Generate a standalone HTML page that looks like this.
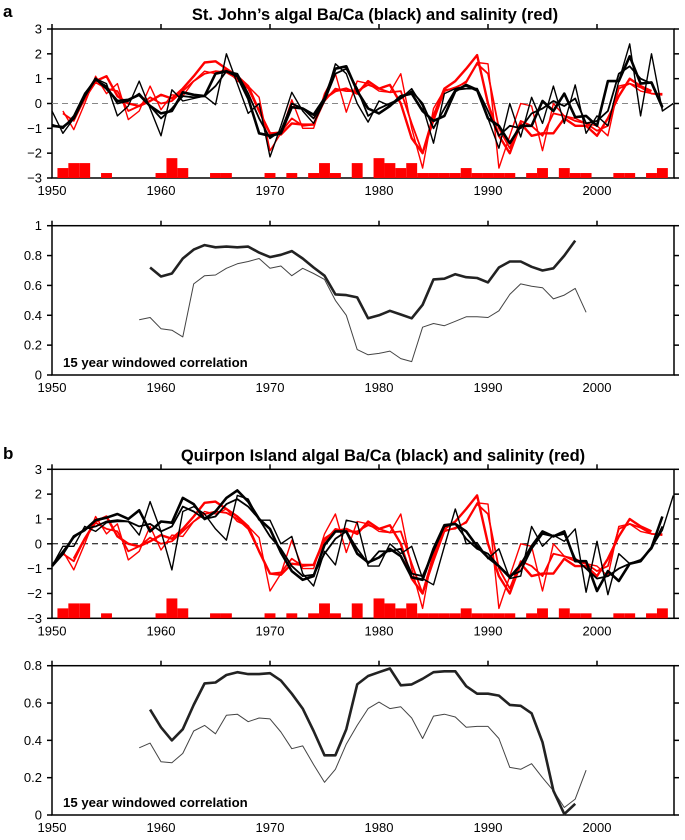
<!DOCTYPE html>
<html><head><meta charset="utf-8"><style>
body{margin:0;background:#fff;}
svg{display:block;font-family:"Liberation Sans",Arial,sans-serif;}
</style></head><body>
<svg id="c" width="685" height="840" viewBox="0 0 685 840"></svg>
<script>
const years0=1950;
const tickYears=[1950,1960,1970,1980,1990,2000];
const barYears=[1951,1952,1953,1955,1960,1961,1962,1965,1966,1970,1972,1974,1975,1976,1978,1980,1981,1982,1983,1984,1985,1986,1987,1988,1989,1990,1991,1992,1994,1995,1997,1998,1999,2002,2003,2005,2006];
const barVals=[-2.6,-2.4,-2.4,-2.8,-2.8,-2.2,-2.6,-2.8,-2.8,-2.8,-2.8,-2.8,-2.4,-2.8,-2.4,-2.2,-2.4,-2.6,-2.4,-2.8,-2.8,-2.8,-2.8,-2.6,-2.8,-2.8,-2.8,-2.8,-2.8,-2.6,-2.6,-2.8,-2.8,-2.8,-2.8,-2.8,-2.6];
// St John's (start 1950)
const aBlackThin=[-0.3,-1.2,-0.6,0.4,1.0,0.8,-0.5,-0.1,0.9,-0.2,-1.3,0.55,0.1,0.2,0.3,-0.05,2.0,0.8,-0.4,0.0,-2.15,-0.9,0.45,-0.3,-0.8,0.1,1.6,1.2,0.0,-0.75,0.1,-0.1,0.2,0.6,-0.1,-1.6,0.4,0.6,0.7,0.5,-0.6,-1.8,0.0,-1.35,0.25,-0.8,0.7,-0.8,0.75,-1.2,-0.5,-0.9,0.9,2.4,-0.5,2.0,-0.3,0.0];
const aBlackMed=[-0.85,-1.0,-0.5,0.4,0.95,0.7,0.0,0.1,0.4,-0.1,-0.6,-0.2,0.3,0.25,0.3,0.7,1.3,1.2,0.4,-0.6,-1.4,-1.1,0.0,-0.2,-0.6,0.1,1.2,1.4,0.6,-0.5,-0.2,0.0,0.2,0.5,0.0,-1.0,-0.2,0.55,0.6,0.6,-0.3,-1.3,-0.9,-1.0,-0.4,-0.2,0.1,-0.1,0.2,-0.8,-0.7,-0.3,1.2,1.5,1.0,0.8,-0.2];
const aBlackThick=[-0.9,-0.95,-0.6,0.3,1.0,0.6,0.1,0.15,0.35,-0.1,-0.4,-0.3,0.45,0.35,0.3,1.2,1.3,1.1,0.2,-1.2,-1.3,-1.2,-0.15,-0.2,-0.45,0.2,1.4,1.5,0.5,-0.2,-0.4,-0.1,0.3,0.4,-0.3,-0.7,-0.5,0.5,0.75,0.55,-0.6,-0.9,-1.6,-0.9,-0.9,0.1,-0.3,0.4,-0.55,-0.5,-0.9,0.9,0.9,1.9,0.8,0.85,-0.15];
// salinity (start 1951)
const redThin=[-0.3,-1.05,0.0,1.1,0.4,0.8,-0.65,-0.3,0.7,-0.25,0.35,0.3,0.9,1.3,1.2,1.4,0.9,0.7,0.25,-1.9,-1.2,0.15,-1.0,-1.0,0.4,1.2,-0.35,0.9,0.8,0.5,0.45,1.2,-1.0,-2.6,-0.2,0.55,0.6,0.9,1.65,1.6,-2.6,-1.3,0.0,-0.1,-1.9,0.0,-0.5,-0.6,-0.8,-0.9,-1.3,0.7,0.8,0.5,0.4,0.4];
const redMed=[-0.4,-0.7,0.2,0.85,0.6,0.5,-0.3,-0.1,0.25,0.0,0.1,0.5,0.9,1.2,1.3,1.25,1.0,0.6,-0.3,-1.2,-1.15,-0.6,-0.9,-0.85,0.1,0.6,0.5,0.5,0.75,0.6,0.45,0.5,-0.8,-2.0,-0.7,0.5,0.65,0.85,1.6,1.2,-1.0,-1.8,-0.7,-0.9,-1.3,-0.4,-0.5,-0.7,-0.8,-1.1,-0.9,0.6,0.8,0.65,0.4,0.35];
// thick red starts 1952
const redThick=[-0.6,0.2,0.9,1.1,0.3,0.0,-0.1,0.1,0.35,0.2,0.6,1.1,1.65,1.7,1.4,1.1,0.7,-0.3,-1.2,-1.25,-0.8,-0.85,-0.85,0.2,0.5,0.6,0.4,0.9,0.6,0.75,0.0,-1.4,-2.0,-0.5,0.6,0.9,1.4,1.95,0.0,-1.3,-2.0,-0.8,-1.3,-1.2,-1.2,-0.6,-0.9,-0.9,-1.3,-0.6,0.3,1.0,0.7,0.5];
// Quirpon (start 1950)
const bBlackThin=[-0.9,-0.1,-0.1,0.7,0.5,0.85,0.9,0.9,0.35,1.7,0.5,-1.05,1.3,1.5,1.2,0.6,0.15,1.95,1.8,0.95,0.95,0.0,0.3,-1.2,-1.7,-0.3,-0.85,0.95,0.85,-0.9,-0.9,0.0,-0.4,-0.1,-1.4,-1.65,-0.1,1.4,0.0,0.05,-0.6,-0.2,-1.4,-1.3,0.7,-0.1,0.35,0.1,0.6,-1.95,0.1,-2.05,-0.4,-0.8,-0.7,-0.15,0.55,1.95];
const bBlackMed=[-0.85,-0.3,0.25,0.6,0.7,0.9,0.95,0.9,0.7,0.8,0.5,0.7,1.5,1.3,1.0,1.1,1.6,1.8,1.5,1.0,0.3,-0.2,-0.9,-1.3,-1.25,-0.4,0.2,0.5,-0.2,-0.8,-0.3,-0.3,-0.2,-1.2,-1.3,-0.3,0.7,0.8,0.2,-0.2,-0.4,-0.9,-1.3,-1.1,-0.2,0.4,0.3,0.4,-0.6,-1.0,-1.4,-1.3,-1.0,-0.8,-0.65,-0.2,0.7];
const bBlackThick=[-0.9,-0.4,0.3,0.55,0.95,1.05,1.2,1.0,1.35,0.5,0.9,0.85,1.85,1.6,1.0,1.3,1.85,2.15,1.7,1.0,0.6,-0.35,-1.1,-1.45,-1.3,-0.05,0.5,0.5,-0.4,-0.75,-0.55,-0.2,-0.5,-1.35,-1.45,-0.2,0.75,0.8,0.5,-0.1,-0.55,-0.9,-1.35,-0.85,-0.1,0.5,0.3,0.5,-0.7,-0.7,-1.9,-1.1,-1.5,-0.8,-0.7,-0.15,1.1];
// correlations (start 1959 thick, 1958 thin)
const aCorrThick=[0.72,0.66,0.68,0.78,0.84,0.87,0.855,0.86,0.855,0.86,0.82,0.79,0.805,0.83,0.78,0.72,0.665,0.54,0.535,0.52,0.38,0.40,0.43,0.405,0.38,0.47,0.64,0.645,0.675,0.655,0.65,0.62,0.72,0.76,0.76,0.725,0.70,0.715,0.80,0.90];
const aCorrThin=[0.37,0.385,0.31,0.30,0.255,0.61,0.665,0.67,0.715,0.745,0.76,0.78,0.715,0.73,0.665,0.715,0.68,0.64,0.50,0.40,0.17,0.135,0.145,0.16,0.11,0.09,0.32,0.345,0.33,0.36,0.39,0.39,0.385,0.43,0.54,0.61,0.595,0.585,0.51,0.535,0.58,0.42];
const bCorrThick=[0.565,0.47,0.40,0.46,0.59,0.705,0.71,0.75,0.765,0.755,0.755,0.76,0.72,0.65,0.57,0.45,0.32,0.32,0.46,0.70,0.745,0.765,0.785,0.695,0.70,0.73,0.765,0.77,0.77,0.69,0.65,0.65,0.64,0.59,0.585,0.545,0.39,0.13,0.005,0.06];
const bCorrThin=[0.36,0.385,0.285,0.28,0.33,0.45,0.48,0.435,0.535,0.54,0.50,0.52,0.515,0.445,0.355,0.37,0.27,0.175,0.245,0.38,0.48,0.57,0.605,0.57,0.58,0.52,0.41,0.53,0.54,0.525,0.47,0.475,0.475,0.41,0.255,0.245,0.275,0.20,0.13,0.04,0.085,0.24];

const NS='http://www.w3.org/2000/svg';
const svg=document.getElementById('c');
function el(tag,attrs,parent){const e=document.createElementNS(NS,tag);for(const k in attrs)e.setAttribute(k,attrs[k]);(parent||svg).appendChild(e);return e;}
const X0=52,XR=674,KX=10.9;
function xs(yr){return X0+(yr-years0)*KX;}
function panel(name,top,bot,vmin,vmax,yticks,ylabFmt){
  const g=el('g',{});
  
  
  const ys=v=>bot-(v-vmin)/(vmax-vmin)*(bot-top);
  const frame=el('rect',{x:X0,y:top,width:XR-X0,height:bot-top,fill:'none',stroke:'#000','stroke-width':1.5},g);
  
  
  yticks.forEach(v=>{
    el('line',{x1:X0-5,x2:X0,y1:ys(v),y2:ys(v),stroke:'#000','stroke-width':1.5},g);
    el('line',{x1:XR,x2:XR+5,y1:ys(v),y2:ys(v),stroke:'#000','stroke-width':1.5},g);
    const t=el('text',{x:X0-10,y:ys(v)+4.5,'text-anchor':'end','font-size':13,fill:'#000'},g);
    t.textContent=ylabFmt(v);
    
    
  });
  tickYears.forEach(yr=>{
    el('line',{x1:xs(yr),x2:xs(yr),y1:top-5,y2:top,stroke:'#000','stroke-width':1.5},g);
    const t=el('text',{x:xs(yr),y:bot+17,'text-anchor':'middle','font-size':13,fill:'#000'},g);
    t.textContent=yr;
    
    
  });
  return {g,ys};
}
function line(p,arr,start,color,w,name){
  const d=arr.map((v,i)=>(i?'L':'M')+xs(start+i).toFixed(1)+','+p.ys(v).toFixed(1)).join('');
  const e=el('path',{d:d,fill:'none',stroke:color,'stroke-width':w,'stroke-linejoin':'round'},p.g);
  
  
}
function bars(p){
  barYears.forEach((yr,i)=>{
    const r=el('rect',{x:xs(yr-0.5),width:KX,y:p.ys(barVals[i]),height:p.ys(-3)-p.ys(barVals[i]),fill:'#ff0000'},p.g);
    
    
  });
}
function zero(p,color){
  const e=el('line',{x1:X0,x2:XR,y1:p.ys(0),y2:p.ys(0),stroke:color,'stroke-width':1,'stroke-dasharray':'6,4'},p.g);
  
  
}
function txt(x,y,s,size,name,anchor){
  const t=el('text',{x:x,y:y,'font-size':size,'font-weight':'bold','text-anchor':anchor||'start',fill:'#000'});
  t.textContent=s;
  
  
}
const fmt1=v=>v<0?'\u2212'+(-v):''+v;
const fmtC=v=>v===0?'0':(v===1?'1':v.toFixed(1));

txt(3,17,'a',17,'panel-label-a');
txt(375,20,'St. John\u2019s algal Ba/Ca (black) and salinity (red)',16.5,'chart-title-a','middle');
const pa=panel('panel-a-timeseries',29,178,-3,3,[-3,-2,-1,0,1,2,3],fmt1);
bars(pa);zero(pa,'#888');
line(pa,redThin,1951,'#ff0000',1.4,'salinity-annual');
line(pa,redMed,1951,'#ff0000',1.8,'salinity-smooth');
line(pa,redThick,1952,'#ff0000',2.4,'salinity-smooth-thick');
line(pa,aBlackThin,1950,'#000',1.4,'baca-annual');
line(pa,aBlackMed,1950,'#000',1.8,'baca-smooth');
line(pa,aBlackThick,1950,'#000',2.6,'baca-smooth-thick');

const pa2=panel('panel-a-correlation',225.7,375,0,1,[0,0.2,0.4,0.6,0.8,1],fmtC);
line(pa2,aCorrThin,1958,'#444',1,'correlation-thin');
line(pa2,aCorrThick,1959,'#222',2.6,'correlation-thick');
txt(63,367,'15 year windowed correlation',13.2,'correlation-label-a');

txt(3,459,'b',17,'panel-label-b');
txt(383,461,'Quirpon Island algal Ba/Ca (black) and salinity (red)',16.5,'chart-title-b','middle');
const pb=panel('panel-b-timeseries',469.3,618.3,-3,3,[-3,-2,-1,0,1,2,3],fmt1);
bars(pb);zero(pb,'#000');
line(pb,redThin,1951,'#ff0000',1.4,'salinity-annual');
line(pb,redMed,1951,'#ff0000',1.8,'salinity-smooth');
line(pb,redThick,1952,'#ff0000',2.4,'salinity-smooth-thick');
line(pb,bBlackThin,1950,'#000',1.4,'baca-annual');
line(pb,bBlackMed,1950,'#000',1.8,'baca-smooth');
line(pb,bBlackThick,1950,'#000',2.6,'baca-smooth-thick');

const pb2=panel('panel-b-correlation',665.7,815,0,0.8,[0,0.2,0.4,0.6,0.8],fmtC);
line(pb2,bCorrThin,1958,'#444',1,'correlation-thin');
line(pb2,bCorrThick,1959,'#222',2.6,'correlation-thick');
txt(63,807,'15 year windowed correlation',13.2,'correlation-label-b');
</script>
</body></html>
